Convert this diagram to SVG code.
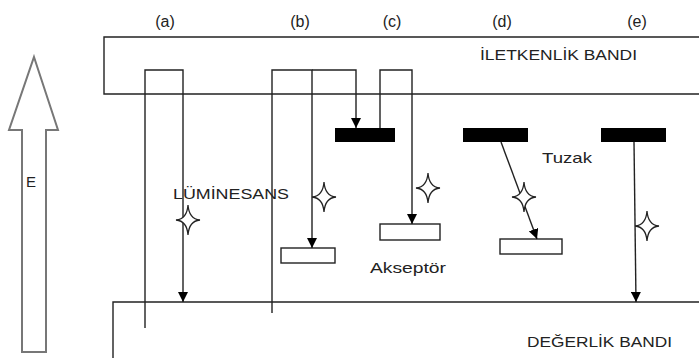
<svg xmlns="http://www.w3.org/2000/svg" width="699" height="358" viewBox="0 0 699 358">
<style>
.ln{fill:none;stroke:#222;stroke-width:1.4}
.bar{fill:#000}
.box{fill:#fff;stroke:#222;stroke-width:1.4}
.star{fill:#fff;stroke:#222;stroke-width:1.3}
text{font-family:"Liberation Sans",Arial,sans-serif;fill:#222}
.lab{font-size:16px;text-anchor:middle}
.t{font-size:15px}
</style>
<defs>
<marker id="ah" viewBox="0 0 10 10" refX="10" refY="5" markerWidth="10" markerHeight="10" markerUnits="userSpaceOnUse" orient="auto">
<path d="M0,0 L10,5 L0,10 Z" fill="#000"/>
</marker>
<path id="st" d="M0,-15 Q1,-1 12,0 Q1,1 0,15 Q-1,1 -12,0 Q-1,-1 0,-15 Z"/>
</defs>
<rect width="699" height="358" fill="#fff"/>

<g id="energy-arrow">
<path d="M34,57 L58,130 L46,130 L46,352 L22,352 L22,130 L9,130 Z" fill="#fff" stroke="#777" stroke-width="2"/>
<text x="31" y="187" class="t" text-anchor="middle">E</text>
</g>

<g id="conduction-band">
<path d="M699,37 L104,37 L104,94 L699,94" class="ln"/>
<text x="480" y="60" class="t" textLength="157" lengthAdjust="spacingAndGlyphs">İLETKENLİK BANDI</text>
</g>

<g id="valence-band">
<path d="M699,302 L113,302 L113,358" class="ln"/>
<text x="527" y="347" class="t" textLength="145" lengthAdjust="spacingAndGlyphs">DEĞERLİK BANDI</text>
</g>

<g id="labels">
<text x="165" y="27" class="lab">(a)</text>
<text x="300" y="27" class="lab">(b)</text>
<text x="392" y="27" class="lab">(c)</text>
<text x="502" y="27" class="lab">(d)</text>
<text x="637" y="27" class="lab">(e)</text>
</g>

<g id="trap-c"><rect x="335" y="128" width="60" height="14" class="bar"/></g>
<g id="trap-d"><rect x="463" y="128" width="65" height="14" class="bar"/></g>
<g id="trap-e"><rect x="601" y="128" width="65" height="14" class="bar"/></g>
<g id="acceptor-b"><rect x="281" y="248" width="54" height="15" class="box"/></g>
<g id="acceptor-c"><rect x="380" y="224" width="60" height="16" class="box"/></g>
<g id="acceptor-d"><rect x="500" y="239" width="62" height="15" class="box"/></g>

<g id="connectors">
<path d="M145,328 L145,70 L183,70 L183,302" class="ln" marker-end="url(#ah)"/>
<path d="M272,313 L272,70 L312,70 L312,248" class="ln" marker-end="url(#ah)"/>
<path d="M312,70 L356,70 L356,128" class="ln" marker-end="url(#ah)"/>
<path d="M380,128 L380,70 L412,70 L412,224" class="ln" marker-end="url(#ah)"/>
<path d="M501,142 L537,239" class="ln" marker-end="url(#ah)"/>
<path d="M634,142 L636,302" class="ln" marker-end="url(#ah)"/>
</g>

<g id="photons">
<use href="#st" x="188" y="220" class="star"/>
<use href="#st" x="324" y="197" class="star"/>
<use href="#st" x="428" y="188" class="star"/>
<use href="#st" x="524" y="197" class="star"/>
<use href="#st" x="647" y="226" class="star"/>
</g>

<g id="texts">
<text x="173" y="199" class="t" textLength="116" lengthAdjust="spacingAndGlyphs">LÜMİNESANS</text>
<text x="370" y="273" class="t" textLength="76" lengthAdjust="spacingAndGlyphs">Akseptör</text>
<text x="542" y="163" class="t" textLength="50" lengthAdjust="spacingAndGlyphs">Tuzak</text>
</g>
</svg>
